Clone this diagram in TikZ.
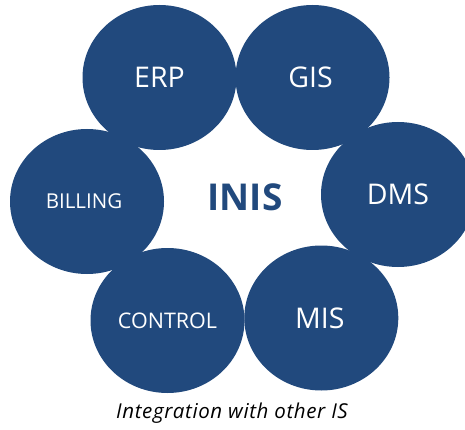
\documentclass[tikz,border=0pt]{standalone}
\usepackage{fontspec}
\setmainfont{Open Sans}
\usetikzlibrary{shapes.geometric}
\definecolor{inisblue}{RGB}{33,73,125}
\tikzset{
  sysnode/.style={ellipse, fill=inisblue, text=white, minimum width=154pt, minimum height=145pt, inner sep=0pt},
  bigtxt/.style={font=\fontsize{28.5}{32}\selectfont},
  smalltxt/.style={font=\fontsize{20.5}{24}\selectfont}
}
\begin{document}
\begin{tikzpicture}[x=1pt,y=-1pt]
\useasboundingbox (0,0) rectangle (465,430);
\clip (0,0) rectangle (465,430);
\node[sysnode, smalltxt] (billing) at (87,201.5) {\hspace{-6pt}BILLING};
\node[sysnode, bigtxt] (erp) at (159.5,77.5) {ERP};
\node[sysnode, bigtxt] (gis) at (312.5,77.5) {\hspace{-4pt}GIS};
\node[sysnode, bigtxt] (dms) at (398,194.5) {DMS};
\node[sysnode, font=\fontsize{21.5}{25}\selectfont] (control) at (167.5,320.5) {CONTROL};
\node[sysnode, bigtxt] (mis) at (321.3,318) {\hspace{-3pt}MIS};
\node[text=inisblue, font=\fontsize{37}{42}\bfseries\selectfont] (inis) at (245,197) {INIS};
\node[font=\fontsize{20.5}{24}\itshape\selectfont\addfontfeatures{LetterSpace=3}] (caption) at (232,413.5) {Integration with other IS};
\end{tikzpicture}
\end{document}
